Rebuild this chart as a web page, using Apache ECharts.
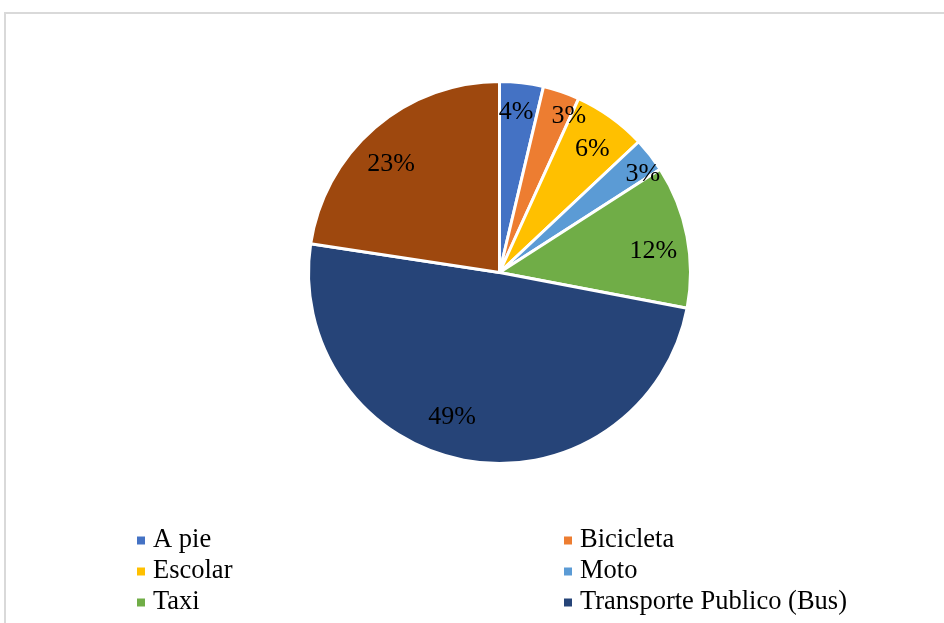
<!DOCTYPE html>
<html>
<head>
<meta charset="utf-8">
<script src="https://cdn.jsdelivr.net/npm/echarts@6/dist/echarts.min.js"></script>
<style>
  html, body { margin: 0; padding: 0; background: #ffffff; }
  #chart { width: 944px; height: 623px; }
</style>
</head>
<body>
<div id="chart"></div>
<script>
// Modo de transporte (porcentaje de encuestados)
const categories = ['A pie', 'Bicicleta', 'Escolar', 'Moto', 'Taxi', 'Transporte Publico (Bus)', 'Otros'];
const shares = [3.7, 3.1, 6.2, 2.9, 12.1, 49.4, 22.6];

// Legend columns (the last category has no visible legend entry)
const legendLeft = ['A pie', 'Escolar', 'Taxi'];
const legendRight = ['Bicicleta', 'Moto', 'Transporte Publico (Bus)'];

// Styling
const palette = ['#4472C4', '#ED7D31', '#FFC000', '#5B9BD5', '#70AD47', '#264478', '#9E480E'];
const labelNudge = [[-3, 7], [15, 3], [-5, 13], [11, 5], [-11, 11], [-19, -21], [1, 19]];

const serif = "'Liberation Serif', 'Times New Roman', serif";
const center = [499.5, 272.5];

const sliceData = categories.map((name, i) => ({
  name,
  value: shares[i],
  itemStyle: { color: palette[i] }
}));

const labelData = categories.map((name, i) => ({
  name,
  value: shares[i],
  label: { offset: labelNudge[i] }
}));

const legendCommon = {
  orient: 'vertical',
  icon: 'rect',
  itemWidth: 10,
  itemHeight: 10,
  itemGap: 4,
  top: 527,
  padding: 0,
  selectedMode: false,
  textStyle: {
    fontFamily: serif,
    fontSize: 26.5,
    lineHeight: 26,
    color: '#000000',
    padding: [0, 0, 0, 2]
  }
};

const chart = echarts.init(document.getElementById('chart'), null, { renderer: 'canvas' });
chart.setOption({
  backgroundColor: '#ffffff',
  animation: false,
  graphic: [{
    type: 'rect',
    silent: true,
    shape: { x: 5, y: 13, width: 1400, height: 1400 },
    style: { fill: 'none', stroke: '#d9d9d9', lineWidth: 2 }
  }],
  legend: [
    Object.assign({ left: 135, data: legendLeft }, legendCommon),
    Object.assign({ left: 562, data: legendRight }, legendCommon)
  ],
  series: [
    {
      type: 'pie',
      center: center,
      radius: 191,
      startAngle: 90,
      clockwise: true,
      silent: true,
      percentPrecision: 0,
      itemStyle: { borderColor: '#ffffff', borderWidth: 3 },
      label: { show: false },
      labelLine: { show: false },
      emphasis: { disabled: true },
      data: sliceData
    },
    {
      // transparent ring carrying the percentage labels
      type: 'pie',
      center: center,
      radius: [140, 190],
      startAngle: 90,
      clockwise: true,
      silent: true,
      percentPrecision: 0,
      itemStyle: { color: 'rgba(0,0,0,0)', borderWidth: 0 },
      label: {
        show: true,
        position: 'inside',
        formatter: '{d}%',
        fontFamily: serif,
        fontSize: 26,
        color: '#000000'
      },
      labelLine: { show: false },
      emphasis: { disabled: true },
      data: labelData
    }
  ]
});
</script>
</body>
</html>
